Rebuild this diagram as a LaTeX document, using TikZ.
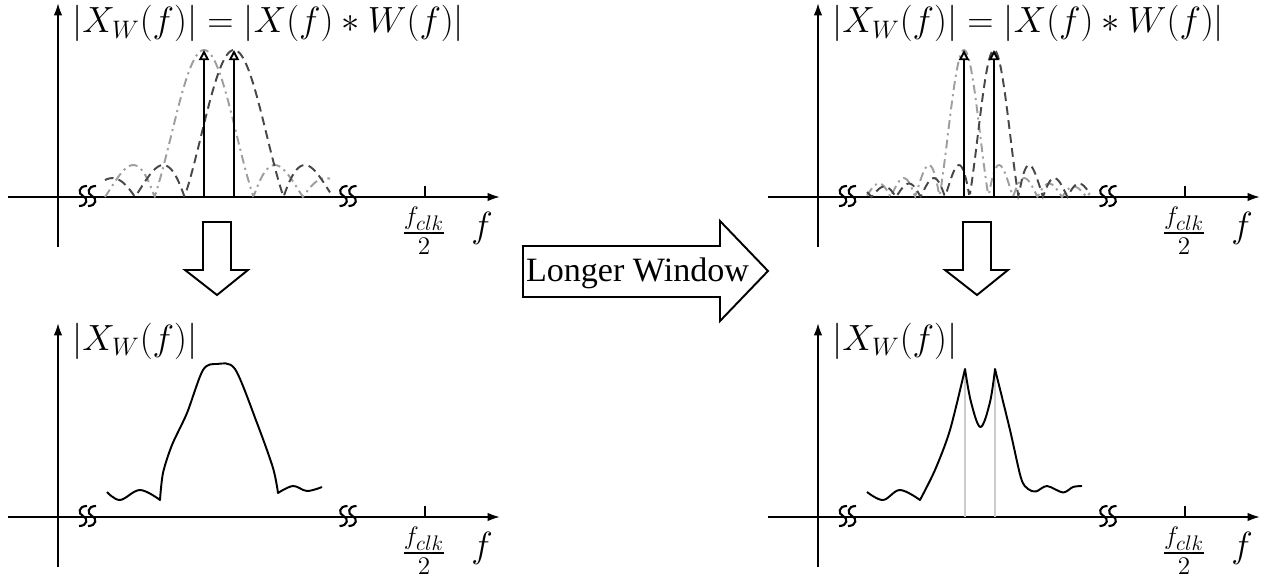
\documentclass[tikz,border=0pt]{standalone}
\usepackage{amsmath}
\usepackage{fontspec}
\newfontfamily\timesfont{Liberation Serif}
\usetikzlibrary{arrows.meta,positioning}

\definecolor{sincgray}{gray}{0.62}
\definecolor{sincdark}{gray}{0.28}
\definecolor{impgray}{gray}{0.8}

\begin{document}
\begin{tikzpicture}[x=0.02cm, y=-0.02cm]
    % Styles
    \tikzstyle{axisline} = [line width=1.1pt, -{Latex[length=7pt, width=4.8pt]}]
    \tikzstyle{impulse} = [line width=1.1pt, -{Triangle[open, length=5.8pt, width=5.8pt, fill=white]}]
    \tikzstyle{lightsinc} = [sincgray, line width=1.1pt, dash pattern=on 5pt off 2.5pt on 1.2pt off 2.5pt]
    \tikzstyle{darksinc} = [sincdark, line width=1.1pt, dash pattern=on 5pt off 3pt]
    \tikzstyle{response} = [line width=1.1pt, line join=round]
    \tikzstyle{blockarrow} = [line width=1.1pt, fill=white, line join=miter]
    \tikzstyle{brk} = [line width=1.2pt]
    \tikzstyle{mathlabel} = [font=\huge, inner sep=0pt]

    \useasboundingbox (0,0) rectangle (1271,577);

    % Axes, ticks and breaks of the four panels
    \foreach \ox/\oy [count=\i] in {0/0, 760/0, 0/320, 760/320} {
        \draw[axisline] (8+\ox,197+\oy) -- (500+\ox,197+\oy);
        \draw[axisline] (58+\ox,247+\oy) -- (58+\ox,3+\oy);
        \draw[line width=1.1pt] (425+\ox,197+\oy) -- (425+\ox,186+\oy);
        \node[mathlabel] (fclk\i) at (424+\ox,231+\oy) {$\frac{f_{clk}}{2}$};
        \node[mathlabel] (f\i) at (482+\ox,228+\oy) {$f$};
        \foreach \bx in {87.5,348} {
            \foreach \s in {-4.5,4.5} {
                \begin{scope}[shift={(\bx+\ox+\s,196+\oy)}]
                    \draw[brk] (4,-10) .. controls (-5,-10) and (-5,-2) .. (0,0)
                        .. controls (5,2) and (5,10) .. (-4,10);
                \end{scope}
            }
        }
    }

    % Labels
    \node[mathlabel, anchor=west] (ttl1) at (72,23.5) {$|X_W(f)| = |X(f) * W(f)|$};
    \node[mathlabel, anchor=west] (ttl2) at (832,23.5) {$|X_W(f)| = |X(f) * W(f)|$};
    \node[mathlabel, anchor=west] (mag1) at (72,341) {$|X_W(f)|$};
    \node[mathlabel, anchor=west] (mag2) at (832,341) {$|X_W(f)|$};

    % Window spectra around the two tones
    \foreach \ox/\w/\a/\b in {0/49.5/105/330, 760/24.5/867/1090} {
        \draw[lightsinc] plot[domain=\a:\b, samples=200]
            (\x, {197-147*abs(sin((\x-204.013-\ox)/\w*180)/(pi*(\x-204.013-\ox)/\w))});
        \draw[darksinc] plot[domain=\a:\b, samples=200]
            (\x, {197-147*abs(sin((\x-234.013-\ox)/\w*180)/(pi*(\x-234.013-\ox)/\w))});
        \draw[impulse] (204+\ox,197) -- (204+\ox,50);
        \draw[impulse] (234+\ox,197) -- (234+\ox,50);
    }

    % Resulting spectra
    \draw[response] plot[smooth, tension=0.6] coordinates {(107,492) (120,500) (140,490) (160,500)}
        -- plot[smooth, tension=0.5] coordinates {(160,500) (163,473) (172,445) (187,413) (203,370) (217,364) (235,369) (257,423) (273,468) (278,493)}
        -- plot[smooth, tension=0.6] coordinates {(278,493) (293,486) (307,491) (322,487)};

    \draw[impgray, line width=1pt] (965,517) -- (965,370);
    \draw[impgray, line width=1pt] (995,517) -- (995,370);
    \draw[response] plot[smooth, tension=0.6] coordinates {(867,492) (883,500) (900,490) (920,500)}
        -- plot[smooth, tension=0.5] coordinates {(920,500) (935,470) (950,430) (965,369)}
        -- plot[smooth, tension=0.6] coordinates {(965,369) (971,402) (980.5,427) (990,402) (995,369)}
        -- plot[smooth, tension=0.5] coordinates {(995,369) (1010,430) (1021,478) (1028,489) (1036,491.5) (1047,486) (1063,492.5) (1073,487) (1082,486)};

    % Block arrows
    \draw[blockarrow] (203,222) -- (231,222) -- (231,270) -- (248,270) -- (217,295)
        -- (185,270) -- (203,270) -- cycle;
    \draw[blockarrow] (963,222) -- (991,222) -- (991,270) -- (1008,270) -- (977,295)
        -- (945,270) -- (963,270) -- cycle;
    \draw[blockarrow] (523,246) -- (720,246) -- (720,221) -- (768,271) -- (720,321)
        -- (720,297) -- (523,297) -- cycle;
    \node[font=\timesfont\fontsize{19.4}{23}\selectfont, inner sep=0pt] (longer) at (637.5,273) {Longer Window};
\end{tikzpicture}
\end{document}
